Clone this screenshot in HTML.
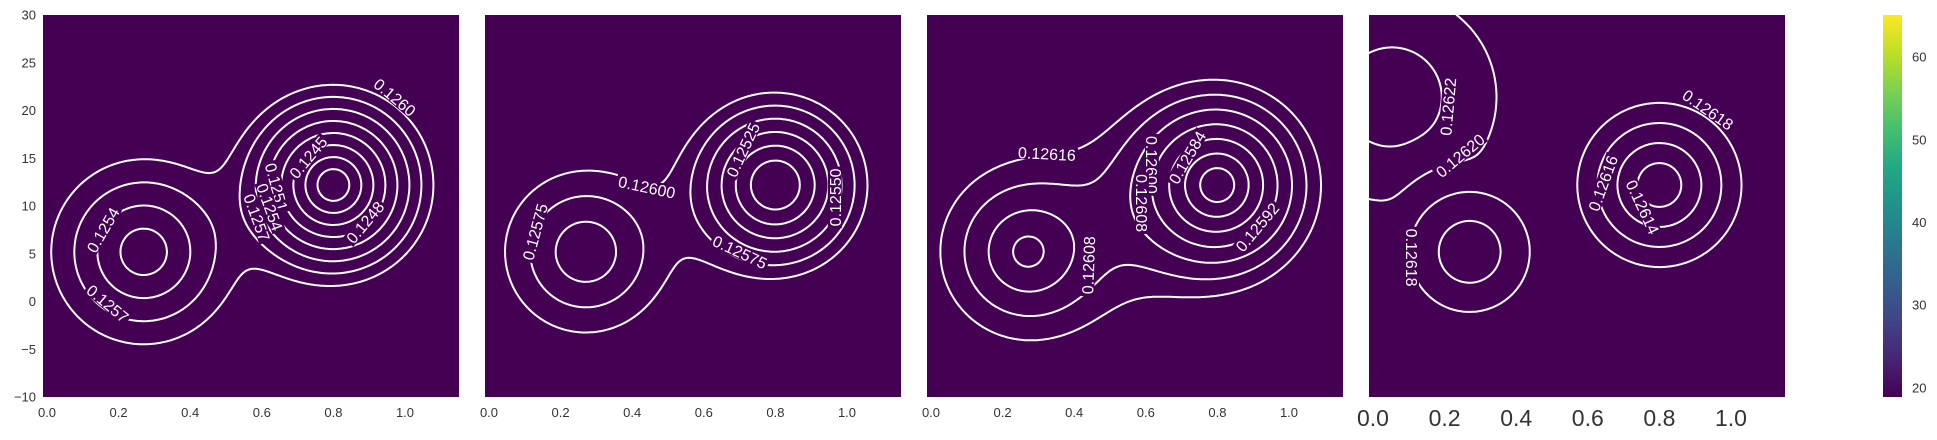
<!DOCTYPE html>
<html><head><meta charset="utf-8"><style>
html,body{margin:0;padding:0;background:#fff;}
svg{display:block;font-family:"Liberation Sans",sans-serif;}
</style></head><body>
<svg id="chart" width="1937" height="440" viewBox="0 0 1937 440" xmlns="http://www.w3.org/2000/svg">
<defs>
<linearGradient id="viridis" x1="0" y1="1" x2="0" y2="0">
<stop offset="0" stop-color="#440154"/><stop offset="0.1" stop-color="#482475"/><stop offset="0.2" stop-color="#414487"/><stop offset="0.3" stop-color="#355f8d"/><stop offset="0.4" stop-color="#2a788e"/><stop offset="0.5" stop-color="#21918c"/><stop offset="0.6" stop-color="#22a884"/><stop offset="0.7" stop-color="#44bf70"/><stop offset="0.8" stop-color="#7ad151"/><stop offset="0.9" stop-color="#bddf26"/><stop offset="1" stop-color="#fde725"/>
</linearGradient>
</defs>
<g id="panels"></g>
<g id="cbar"></g>
</svg>
<script>
// ---- data ----
const xTicks = [0.0, 0.2, 0.4, 0.6, 0.8, 1.0];
const xTickLabels = ["0.0", "0.2", "0.4", "0.6", "0.8", "1.0"];
const yTicks = [30, 25, 20, 15, 10, 5, 0, -5, -10];
const yTickLabels = ["30", "25", "20", "15", "10", "5", "0", "\u22125", "\u221210"];
const cbarTicks = [20, 30, 40, 50, 60];
const cbarRange = [18.9, 65.1];

const levels1 = [0.1239, 0.1242, 0.1245, 0.1248, 0.1251, 0.1254, 0.1257, 0.1260];
const levels2 = [0.12475, 0.12500, 0.12525, 0.12550, 0.12575, 0.12600];
const levels3 = [0.12568, 0.12576, 0.12584, 0.12592, 0.12600, 0.12608, 0.12616];
const levels4 = [0.12612, 0.12614, 0.12616, 0.12618, 0.12620, 0.12622];

// blobs: [centerX, centerY, centerValue, slope, flatness]
const blobs1 = [[0.27, 5.2, 0.124805, 1.3e-5, 0.5], [0.80, 12.2, 0.12355, 2.5e-5, 2]];
const blobs2 = [[0.27, 5.2, 0.12527, 1.0e-5, 8], [0.80, 12.2, 0.12452, 2.0e-5, 20]];
const blobs3 = [[0.27, 5.2, 0.12589, 3.3e-6, 5], [0.80, 12.2, 0.12560, 5.6e-6, 2]];
const blobs4 = [[0.27, 5.2, 0.12614, 6.9e-7, 2], [0.80, 12.2, 0.12610, 1.0e-6, 2]];
// background bump: [x, y, base, amplitude, sigma]
const bump4 = [0.053, 21.4, 0.12619, 4.14e-5, 62];
const smooth = [0.00045, 0.00045, 0.00022, 0.000003];

const labelText1 = ["0.1260","0.1245","0.1254","0.1257","0.1248","0.1251","0.1254","0.1257"];
const labelX1 = [0.972,0.729,0.156,0.170,0.888,0.642,0.623,0.587];
const labelY1 = [21.4,15.1,7.5,-0.2,8.3,12.0,9.9,8.8];
const labelRot1 = [40,-50,-60,40,-50,75,70,70];
const labelText2 = ["0.12600","0.12575","0.12525","0.12550","0.12575"];
const labelX2 = [0.441,0.128,0.709,0.966,0.701];
const labelY2 = [12.0,7.3,15.9,10.9,5.2];
const labelRot2 = [12,-75,-65,-90,25];
const labelText3 = ["0.12616","0.12608","0.12600","0.12608","0.12584","0.12592"];
const labelX3 = [0.324,0.439,0.617,0.589,0.715,0.911];
const labelY3 = [15.5,3.8,14.3,10.3,15.1,7.8];
const labelRot3 = [3,-88,90,90,-60,-50];
const labelText4 = ["0.12622","0.12620","0.12618","0.12618","0.12616","0.12614"];
const labelX4 = [0.209,0.243,0.109,0.936,0.642,0.754];
const labelY4 = [20.4,15.3,4.6,20.1,12.4,9.9];
const labelRot4 = [-85,-40,90,35,-70,65];

// ---- layout ----
const NS = "http://www.w3.org/2000/svg";
const panelLefts = [43, 485, 927, 1369];
const PW = 416, PT = 15, PH = 382;
const XSCALE = 358, XOFF = 4, YMAX = 30, YMIN = -10;
const YSCALE = PH / (YMAX - YMIN);
function sx(x) { return XOFF + x * XSCALE; }
function sy(y) { return (YMAX - y) * YSCALE; }

function mk(tag, attrs, parent) {
  const e = document.createElementNS(NS, tag);
  for (const k in attrs) e.setAttribute(k, attrs[k]);
  parent.appendChild(e);
  return e;
}

function fieldFn(blobs, bump, k) {
  const bl = blobs.map(b => [sx(b[0]), sy(b[1]), b[2], b[3], b[4]]);
  const bp = bump ? [sx(bump[0]), sy(bump[1]), bump[2], bump[3], bump[4]] : null;
  return function (px, py) {
    const vals = [];
    for (const b of bl) {
      const r2 = (px - b[0]) ** 2 + (py - b[1]) ** 2;
      vals.push(b[2] + b[3] * (Math.sqrt(r2 + b[4] * b[4]) - b[4]));
    }
    if (bp) {
      const d2 = (px - bp[0]) ** 2 + (py - bp[1]) ** 2;
      vals.push(bp[2] + bp[3] * Math.exp(-d2 / (2 * bp[4] * bp[4])));
    }
    let m = Math.min(...vals), s = 0;
    for (const v of vals) s += Math.exp(-(v - m) / k);
    return m - k * Math.log(s);
  };
}

function contour(f, level) {
  const st = 2, nx = Math.ceil(PW / st), ny = Math.ceil(PH / st);
  const g = [];
  for (let j = 0; j <= ny; j++) { const row = []; for (let i = 0; i <= nx; i++) row.push(f(i * st, j * st)); g.push(row); }
  let d = "";
  const lerp = (a, b, va, vb) => a + (b - a) * (level - va) / (vb - va);
  for (let j = 0; j < ny; j++) for (let i = 0; i < nx; i++) {
    const a = g[j][i], b = g[j][i + 1], c = g[j + 1][i + 1], e = g[j + 1][i];
    const x0 = i * st, y0 = j * st, x1 = x0 + st, y1 = y0 + st;
    const pts = [];
    if ((a < level) !== (b < level)) pts.push([lerp(x0, x1, a, b), y0]);
    if ((b < level) !== (c < level)) pts.push([x1, lerp(y0, y1, b, c)]);
    if ((e < level) !== (c < level)) pts.push([lerp(x0, x1, e, c), y1]);
    if ((a < level) !== (e < level)) pts.push([x0, lerp(y0, y1, a, e)]);
    if (pts.length >= 2) d += "M" + pts[0][0].toFixed(1) + " " + pts[0][1].toFixed(1) + "L" + pts[1][0].toFixed(1) + " " + pts[1][1].toFixed(1);
    if (pts.length === 4) d += "M" + pts[2][0].toFixed(1) + " " + pts[2][1].toFixed(1) + "L" + pts[3][0].toFixed(1) + " " + pts[3][1].toFixed(1);
  }
  return d;
}

const panelsG = document.getElementById("panels");
const configs = [
  [levels1, blobs1, null, smooth[0], labelText1, labelX1, labelY1, labelRot1],
  [levels2, blobs2, null, smooth[1], labelText2, labelX2, labelY2, labelRot2],
  [levels3, blobs3, null, smooth[2], labelText3, labelX3, labelY3, labelRot3],
  [levels4, blobs4, bump4, smooth[3], labelText4, labelX4, labelY4, labelRot4]
];

configs.forEach((cfg, p) => {
  const L = panelLefts[p];
  const pg = mk("g", { transform: "translate(" + L + "," + PT + ")" }, panelsG);
  
  
  const bg = mk("rect", { x: 0, y: 0, width: PW, height: PH, fill: "#440154" }, pg);
  
  
  const f = fieldFn(cfg[1], cfg[2], cfg[3]);
  cfg[0].forEach(lv => {
    const path = mk("path", { d: contour(f, lv), stroke: "#fff", "stroke-width": 2, fill: "none", "stroke-linecap": "round" }, pg);
    
    
  });
  cfg[4].forEach((t, i) => {
    const x = sx(cfg[5][i]), y = sy(cfg[6][i]);
    const lg = mk("g", { transform: "translate(" + x.toFixed(1) + "," + y.toFixed(1) + ") rotate(" + cfg[7][i] + ")" }, pg);
    
    
    const w = (t.length - 1) * 8.9 + 4.4 + 4;
    mk("rect", { x: -w / 2, y: -7, width: w, height: 14, fill: "#440154" }, lg);
    const tx = mk("text", { x: 0, y: 6, "text-anchor": "middle", "font-size": 16, fill: "#fff" }, lg);
    tx.textContent = t;
  });
  const big = p === 3;
  xTicks.forEach((v, i) => {
    const t = mk("text", { x: L + sx(v), y: big ? 426 : 417, "text-anchor": "middle", "font-size": big ? 23 : 13, fill: "#333" }, panelsG);
    
    
    t.textContent = xTickLabels[i];
  });
});

yTicks.forEach((v, i) => {
  const t = mk("text", { x: 36, y: PT + sy(v) + 4.5, "text-anchor": "end", "font-size": 13, fill: "#333" }, panelsG);
  
  
  t.textContent = yTickLabels[i];
});

const cb = document.getElementById("cbar");
const CBX = 1883, CBW = 19;
mk("rect", { x: CBX, y: PT, width: CBW, height: PH, fill: "url(#viridis)" }, cb);
const cbY = v => PT + PH - (v - cbarRange[0]) / (cbarRange[1] - cbarRange[0]) * PH;
cbarTicks.forEach(v => {
  const t = mk("text", { x: 1912, y: cbY(v) + 4.5, "font-size": 13, fill: "#333" }, cb);
  
  
  t.textContent = String(v);
});
</script>
</body></html>
